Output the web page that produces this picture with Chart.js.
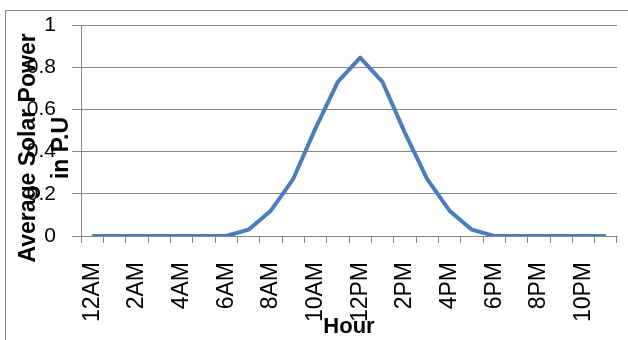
<!DOCTYPE html>
<html>
<head>
<meta charset="utf-8">
<title>Average Solar Power</title>
<script src="https://cdn.jsdelivr.net/npm/chart.js@4/dist/chart.umd.min.js"></script>
<style>
  html, body { margin: 0; padding: 0; background: #ffffff; }
  #wrap { width: 628px; height: 340px; }
</style>
</head>
<body>
<div id="wrap"><canvas id="solarChart" width="628" height="340"></canvas></div>
<script>
// --- data ---
const hourLabels = ['12AM', '1AM', '2AM', '3AM', '4AM', '5AM', '6AM', '7AM', '8AM', '9AM', '10AM', '11AM',
                    '12PM', '1PM', '2PM', '3PM', '4PM', '5PM', '6PM', '7PM', '8PM', '9PM', '10PM', '11PM'];
const solarPower = [0, 0, 0, 0, 0, 0, 0, 0.03, 0.12, 0.27, 0.51, 0.73,
                    0.845, 0.73, 0.49, 0.27, 0.12, 0.03, 0, 0, 0, 0, 0, 0];
const yTicks = [0, 0.2, 0.4, 0.6, 0.8, 1];
const xTitle = 'Hour';
const yTitle = ['Average Solar Power', 'in P.U'];

const gridGray = '#868686';
const tickFont = '"Liberation Sans", Arial, sans-serif';

// frame + axis titles (titles sit over the tick labels, so they are drawn by hand)
const chartDecor = {
    id: 'chartDecor',
    beforeDraw(chart) {
        const ctx = chart.ctx;
        ctx.save();
        ctx.strokeStyle = gridGray;
        ctx.lineWidth = 1;
        ctx.strokeRect(5.5, 10.5, chart.width + 20, chart.height + 20);
        ctx.restore();
    },
    afterDraw(chart) {
        const ctx = chart.ctx;
        const { left, right, top, bottom } = chart.chartArea;
        ctx.save();
        ctx.fillStyle = '#000000';
        ctx.font = 'bold 22px ' + tickFont;
        ctx.textAlign = 'center';
        ctx.textBaseline = 'alphabetic';
        ctx.fillText(xTitle, (left + right) / 2, bottom + 97);

        ctx.font = 'bold 23px ' + tickFont;
        ctx.translate(35, top + 123);
        ctx.rotate(-Math.PI / 2);
        yTitle.forEach((line, i) => ctx.fillText(line, 0, i * 33));
        ctx.restore();
    }
};

const ctx = document.getElementById('solarChart').getContext('2d');
new Chart(ctx, {
    type: 'line',
    data: {
        labels: hourLabels,
        datasets: [{
            data: solarPower,
            borderColor: '#4A7EBB',
            borderWidth: 4,
            borderJoinStyle: 'round',
            borderCapStyle: 'butt',
            pointRadius: 0,
            pointHoverRadius: 0,
            tension: 0,
            fill: false
        }]
    },
    options: {
        responsive: false,
        animation: false,
        devicePixelRatio: 1,
        layout: { padding: { top: 25, right: 11, left: 0, bottom: 0 } },
        plugins: {
            legend: { display: false },
            tooltip: { enabled: false },
            title: { display: false }
        },
        scales: {
            x: {
                offset: true,
                grid: {
                    offset: true,
                    drawOnChartArea: false,
                    drawTicks: true,
                    tickLength: 7,
                    color: gridGray,
                    tickColor: gridGray
                },
                border: { color: gridGray, width: 1 },
                ticks: {
                    autoSkip: false,
                    minRotation: 90,
                    maxRotation: 90,
                    padding: 19,
                    color: '#000000',
                    font: { family: tickFont, size: 23 },
                    callback: (val, i) => (i % 2 === 0 ? hourLabels[i] : '')
                },
                afterFit: (scale) => {
                    scale.height = 104;
                    scale.paddingLeft = 0;
                    scale.paddingRight = 0;
                    scale.paddingTop = 0;
                    scale.paddingBottom = 0;
                }
            },
            y: {
                min: 0,
                max: 1,
                grid: {
                    color: gridGray,
                    tickColor: gridGray,
                    tickLength: 9,
                    lineWidth: 1
                },
                border: { color: gridGray, width: 1 },
                ticks: {
                    padding: 16,
                    color: '#000000',
                    font: { family: tickFont, size: 21 },
                    callback: (v) => String(v)
                },
                afterBuildTicks: (scale) => { scale.ticks = yTicks.map(v => ({ value: v })); },
                afterFit: (scale) => {
                    scale.width = 81;
                    scale.paddingTop = 0;
                    scale.paddingBottom = 0;
                }
            }
        }
    },
    plugins: [chartDecor]
});
</script>
</body>
</html>
